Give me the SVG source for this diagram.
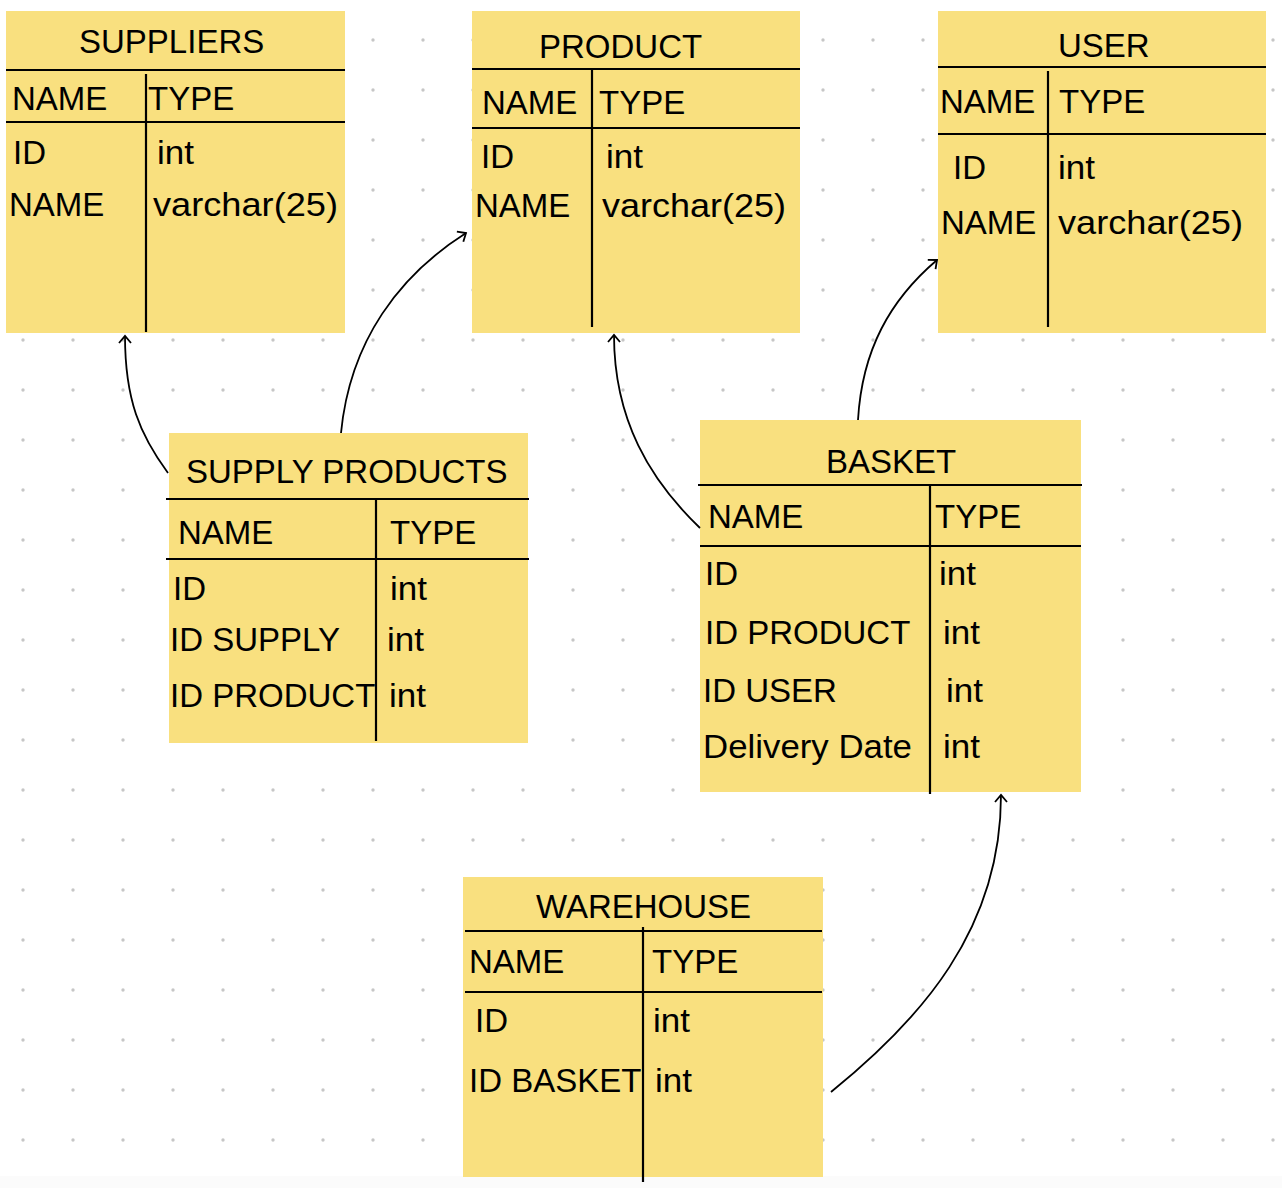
<svg xmlns="http://www.w3.org/2000/svg" width="1282" height="1188" viewBox="0 0 1282 1188">
<style>
.box{fill:#F9E07F}
.ln{stroke:#000;stroke-width:2.2;fill:none}
.t{font-family:"Liberation Sans",Arial,Helvetica,sans-serif;font-size:33px;fill:#000}
.edge{stroke:#000;stroke-width:1.8;fill:none;marker-end:url(#arr)}
</style>
<defs>
<pattern id="dots" patternUnits="userSpaceOnUse" x="0" y="0" width="50" height="50">
<circle cx="23" cy="40" r="1.7" fill="#c6c6c6"/>
</pattern>
<marker id="arr" viewBox="-10 -8 12 16" refX="0" refY="0" markerWidth="12" markerHeight="16" markerUnits="userSpaceOnUse" orient="auto">
<path d="M-7,-6 L0,0 L-7,6" fill="none" stroke="#000" stroke-width="1.8"/>
</marker>
</defs>
<rect width="1282" height="1188" fill="#fff"/>
<rect x="0" y="1176" width="1282" height="12" fill="#fbfbfb"/>
<rect width="1282" height="1188" fill="url(#dots)"/>

<g id="suppliers">
<rect class="box" x="6" y="11" width="339" height="322"/>
<line class="ln" x1="6" y1="70" x2="345" y2="70"/>
<line class="ln" x1="6" y1="122" x2="345" y2="122"/>
<line class="ln" x1="146" y1="74" x2="146" y2="332"/>
<text class="t" x="79" y="53">SUPPLIERS</text>
<text class="t" x="12" y="110">NAME</text>
<text class="t" x="148" y="110">TYPE</text>
<text class="t" x="13" y="164">ID</text>
<text class="t" x="157" y="164" textLength="37" lengthAdjust="spacingAndGlyphs">int</text>
<text class="t" x="9" y="216">NAME</text>
<text class="t" x="153" y="216" textLength="185" lengthAdjust="spacingAndGlyphs">varchar(25)</text>
</g>

<g id="product">
<rect class="box" x="472" y="11" width="328" height="322"/>
<line class="ln" x1="472" y1="69" x2="800" y2="69"/>
<line class="ln" x1="472" y1="128" x2="800" y2="128"/>
<line class="ln" x1="592" y1="69" x2="592" y2="327"/>
<text class="t" x="539" y="58">PRODUCT</text>
<text class="t" x="482" y="114">NAME</text>
<text class="t" x="599" y="114">TYPE</text>
<text class="t" x="481" y="168">ID</text>
<text class="t" x="606" y="168" textLength="37" lengthAdjust="spacingAndGlyphs">int</text>
<text class="t" x="475" y="217">NAME</text>
<text class="t" x="602" y="217" textLength="184" lengthAdjust="spacingAndGlyphs">varchar(25)</text>
</g>

<g id="user">
<rect class="box" x="938" y="11" width="328" height="322"/>
<line class="ln" x1="938" y1="67" x2="1266" y2="67"/>
<line class="ln" x1="938" y1="134" x2="1266" y2="134"/>
<line class="ln" x1="1048" y1="71" x2="1048" y2="327"/>
<text class="t" x="1058" y="57">USER</text>
<text class="t" x="940" y="113">NAME</text>
<text class="t" x="1059" y="113">TYPE</text>
<text class="t" x="953" y="179">ID</text>
<text class="t" x="1058" y="179" textLength="37" lengthAdjust="spacingAndGlyphs">int</text>
<text class="t" x="941" y="234">NAME</text>
<text class="t" x="1058" y="234" textLength="185" lengthAdjust="spacingAndGlyphs">varchar(25)</text>
</g>

<g id="supply-products">
<rect class="box" x="169" y="433" width="359" height="310"/>
<line class="ln" x1="166" y1="499" x2="529" y2="499"/>
<line class="ln" x1="166" y1="559" x2="529" y2="559"/>
<line class="ln" x1="376" y1="500" x2="376" y2="741"/>
<text class="t" x="186" y="483">SUPPLY PRODUCTS</text>
<text class="t" x="178" y="544">NAME</text>
<text class="t" x="390" y="544">TYPE</text>
<text class="t" x="173" y="600">ID</text>
<text class="t" x="390" y="600" textLength="37" lengthAdjust="spacingAndGlyphs">int</text>
<text class="t" x="170" y="651">ID SUPPLY</text>
<text class="t" x="387" y="651" textLength="37" lengthAdjust="spacingAndGlyphs">int</text>
<text class="t" x="170" y="707">ID PRODUCT</text>
<text class="t" x="389" y="707" textLength="37" lengthAdjust="spacingAndGlyphs">int</text>
</g>

<g id="basket">
<rect class="box" x="700" y="420" width="381" height="372"/>
<line class="ln" x1="698" y1="485" x2="1082" y2="485"/>
<line class="ln" x1="700" y1="546" x2="1081" y2="546"/>
<line class="ln" x1="930" y1="486" x2="930" y2="794"/>
<text class="t" x="826" y="473">BASKET</text>
<text class="t" x="708" y="528">NAME</text>
<text class="t" x="935" y="528">TYPE</text>
<text class="t" x="705" y="585">ID</text>
<text class="t" x="939" y="585" textLength="37" lengthAdjust="spacingAndGlyphs">int</text>
<text class="t" x="705" y="644">ID PRODUCT</text>
<text class="t" x="943" y="644" textLength="37" lengthAdjust="spacingAndGlyphs">int</text>
<text class="t" x="703" y="702">ID USER</text>
<text class="t" x="946" y="702" textLength="37" lengthAdjust="spacingAndGlyphs">int</text>
<text class="t" x="703" y="758" textLength="209" lengthAdjust="spacingAndGlyphs">Delivery Date</text>
<text class="t" x="943" y="758" textLength="37" lengthAdjust="spacingAndGlyphs">int</text>
</g>

<g id="warehouse">
<rect class="box" x="463" y="877" width="360" height="300"/>
<line class="ln" x1="465" y1="931" x2="822" y2="931"/>
<line class="ln" x1="465" y1="992" x2="822" y2="992"/>
<line class="ln" x1="643" y1="927" x2="643" y2="1182"/>
<text class="t" x="536" y="918">WAREHOUSE</text>
<text class="t" x="469" y="973">NAME</text>
<text class="t" x="652" y="973">TYPE</text>
<text class="t" x="475" y="1032">ID</text>
<text class="t" x="653" y="1032" textLength="37" lengthAdjust="spacingAndGlyphs">int</text>
<text class="t" x="469" y="1092">ID BASKET</text>
<text class="t" x="655" y="1092" textLength="37" lengthAdjust="spacingAndGlyphs">int</text>
</g>

<g id="connectors">
<path class="edge" d="M168,473 C140,435 125,400 125,336"/>
<path class="edge" d="M341,433 C350,340 400,275 466,233"/>
<path class="edge" d="M700,528 C650,480 614,420 614,335"/>
<path class="edge" d="M858,420 C862,350 890,300 937,260"/>
<path class="edge" d="M831,1092 C920,1020 1001,930 1001,795"/>
</g>
</svg>
